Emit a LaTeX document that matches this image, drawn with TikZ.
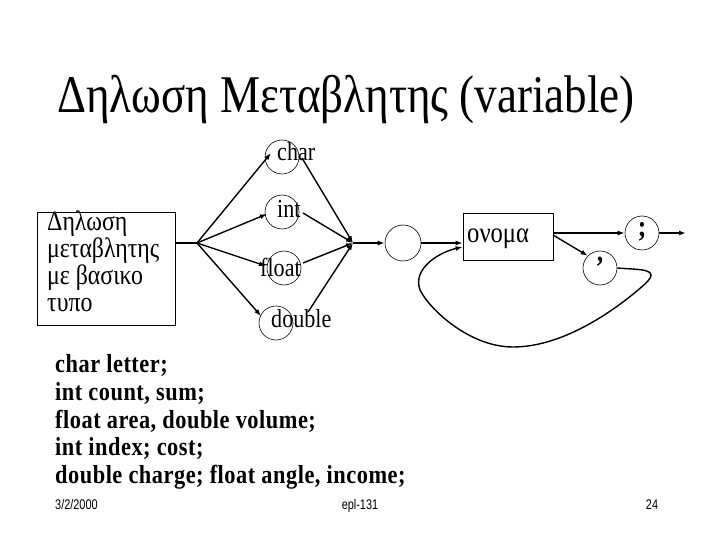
\documentclass[tikz,border=0pt]{standalone}
\usepackage{fontspec}
\setmainfont[FakeStretch=0.85]{Liberation Serif}
\newfontfamily\footfont[FakeStretch=0.78]{Liberation Sans}
\newfontfamily\codefont[FakeStretch=0.86,LetterSpace=2]{Liberation Serif Bold}
\usetikzlibrary{arrows.meta}
\begin{document}
\begin{tikzpicture}[x=1pt,y=-1pt,
  ring/.style={draw,circle,line width=0.6pt,minimum size=34pt,inner sep=0pt},
  lbl/.style={inner sep=0pt,font=\fontsize{26}{26}\selectfont},
  boxline/.style={anchor=base west,inner sep=0pt,font=\fontsize{28}{28}\selectfont},
  codeline/.style={anchor=base west,inner sep=0pt,font=\codefont\fontsize{26}{26}\selectfont},
  foot/.style={inner sep=0pt,font=\footfont\fontsize{14}{14}\selectfont},
  conn/.style={line width=1.4pt,-{Latex[length=7pt,width=5pt]}},
  plain/.style={line width=1.4pt}]
\useasboundingbox (0,0) rectangle (720,540);
\fill[white] (0,0) rectangle (720,540);
% title
\node[inner sep=0pt,anchor=base,font=\fontsize{53}{53}\selectfont] (title) at (346,113) {Δηλωση Μεταβλητης (variable)};
% left box
\node[draw,line width=0.8pt,minimum width=138pt,minimum height=113pt,inner sep=0pt] (box) at (106,268.5) {};
\node[boxline] (b1) at (47,230) {Δηλωση};
\node[boxline] (b2) at (47,257) {μεταβλητης};
\node[boxline] (b3) at (47,284) {με βασικο};
\node[boxline] (b4) at (47,311) {τυπο};
\coordinate (j1) at (197,243);
\coordinate (j2) at (353,243);
% circles
\node[ring] (cchar) at (282,157) {};
\node[ring] (cint) at (282,212) {};
\node[ring] (cfloat) at (284,268) {};
\node[ring] (cdouble) at (276,323) {};
\node[lbl,anchor=base west] (tchar) at (277,161) {char};
\node[lbl,anchor=base west] (tint) at (277,218) {int};
\node[lbl,anchor=base west] (tfloat) at (260,276) {float};
\node[lbl,anchor=base west] (tdouble) at (271,327) {double};
% second part
\node[ring,minimum size=36pt] (c2) at (403,243) {};
\node[draw,line width=0.8pt,minimum width=90pt,minimum height=47pt,inner sep=0pt] (name) at (508,236.5) {};
\node[lbl,anchor=base west,font=\fontsize{29}{29}\selectfont] (tname) at (467,243) {ονομα};
\node[ring] (csemi) at (642,233) {};
\node[lbl,font=\fontsize{30}{30}\bfseries\selectfont] (tsemi) at (642,232) {;};
\node[ring] (ccomma) at (600,268) {};
\node[lbl,font=\fontsize{30}{30}\bfseries\selectfont] (tcomma) at (600,262) {,};
\coordinate (out) at (686,233);
% connectors
\draw[plain] (box.east |- j1) -- (j1);
\draw[conn] (j1) -- (271,153);
\draw[conn] (j1) -- (267,214);
\draw[conn] (j1) -- (266,266);
\draw[conn] (j1) -- (261,316);
\draw[conn] (302,158) -- (j2);
\draw[conn] (303,213) -- (j2);
\draw[conn] (303,263) -- (j2);
\draw[conn] (308,312) -- (j2);
\draw[conn] (j2) -- (c2.west);
\draw[conn] (c2.east) -- (name.west |- c2.east);
\draw[conn] (name.east |- csemi) -- (csemi.west);
\draw[conn] (csemi.east) -- (out);
\draw[conn] (553,235) -- (ccomma.north west);
\draw[conn] (ccomma.east) .. controls (640,270) and (662,268) .. (645,284)
  .. controls (610,315) and (560,347) .. (513,347)
  .. controls (470,347) and (430,310) .. (420,290)
  .. controls (412,268) and (440,252) .. (name.west |- 0,247);
% code lines
\node[codeline] (l1) at (55,372) {char letter;};
\node[codeline] (l2) at (55,400) {int count, sum;};
\node[codeline] (l3) at (55,428) {float area, double volume;};
\node[codeline] (l4) at (55,455) {int index; cost;};
\node[codeline] (l5) at (55,483) {double charge; float angle, income;};
% footer
\node[foot,anchor=base west] (date) at (55,509) {3/2/2000};
\node[foot,anchor=base] (course) at (360,509) {epl-131};
\node[foot,anchor=base] (page) at (652,509) {24};
\end{tikzpicture}
\end{document}
